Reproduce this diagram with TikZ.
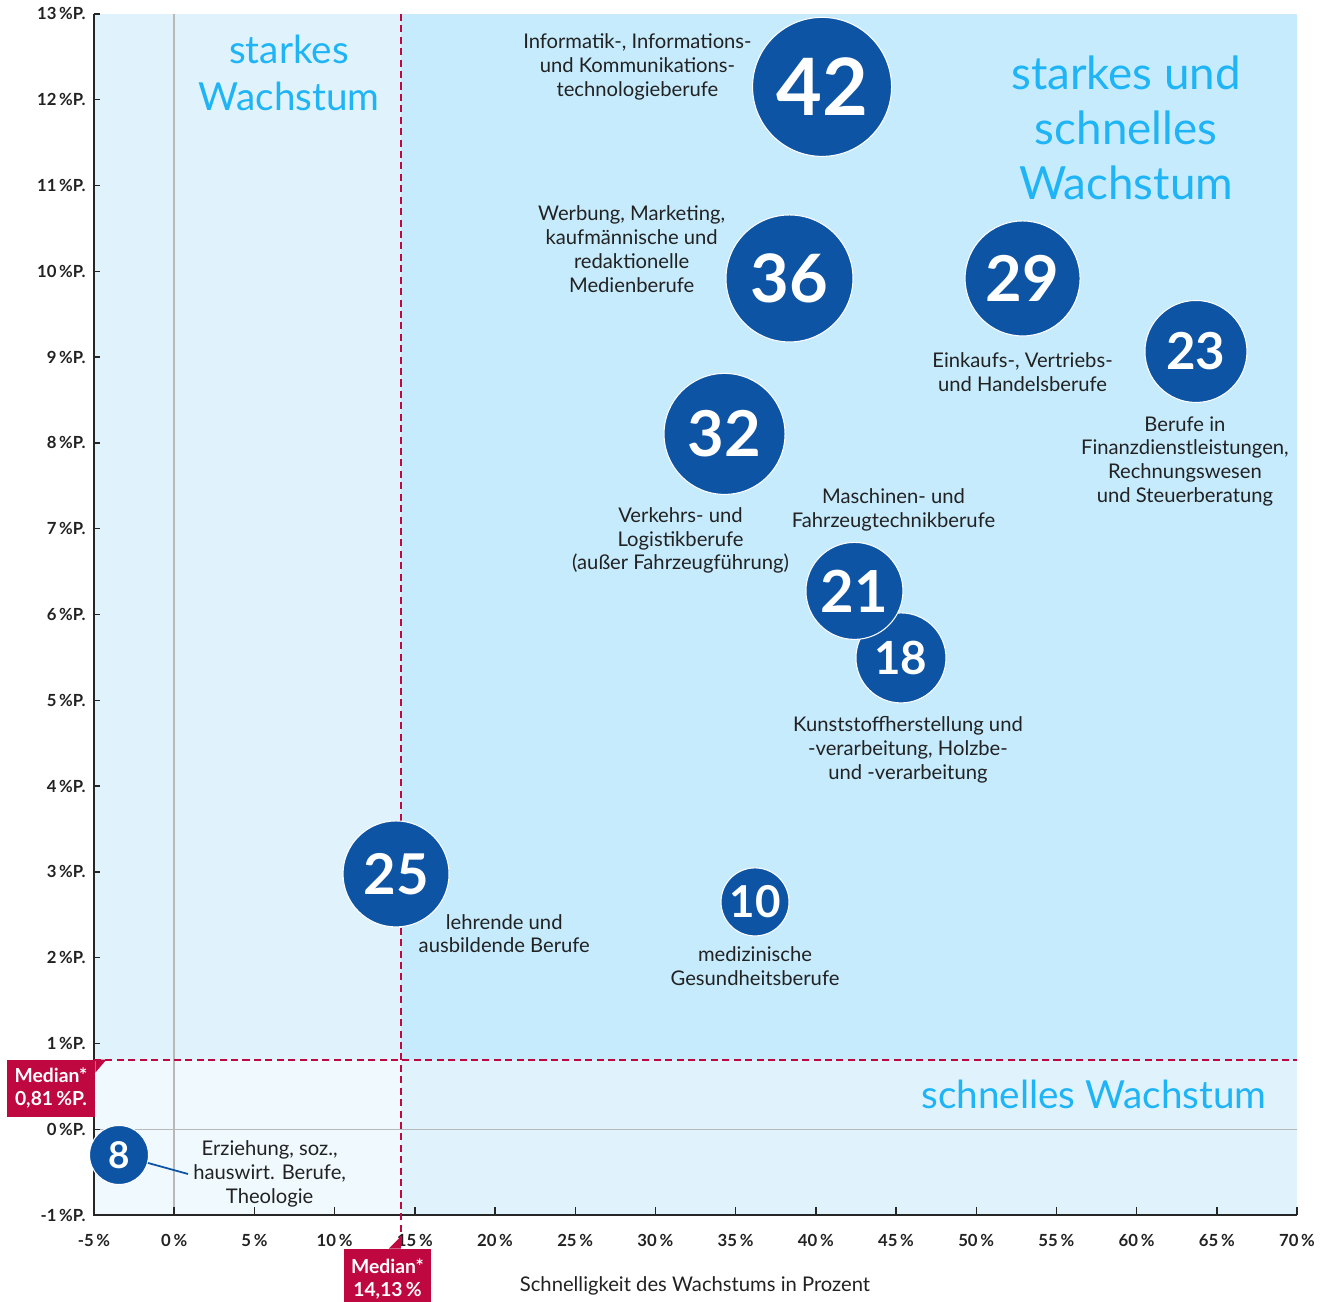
\documentclass[tikz,border=0pt]{standalone}
\usepackage{fontspec}
\setmainfont{Lato}
\usetikzlibrary{positioning}

\definecolor{bubbleblue}{RGB}{14,84,164}
\definecolor{mediancrimson}{RGB}{192,8,64}
\definecolor{quadfast}{RGB}{198,235,253}
\definecolor{quadhalf}{RGB}{224,243,253}
\definecolor{quadlow}{RGB}{240,249,254}
\definecolor{quadtext}{RGB}{30,180,245}
\definecolor{labeltext}{RGB}{34,34,34}

\newcommand{\bubblefont}[1]{\fontsize{#1}{#1}\selectfont\bfseries}

\begin{document}
\begin{tikzpicture}[x=0.3208cm,y=1.7158cm]

		\tikzstyle{bubble}=[circle,fill=bubbleblue,draw=white,line width=0.6pt,
			text=white,inner sep=0pt]
		\tikzstyle{jobtext}=[align=center,inner sep=0pt,text=labeltext,
			font=\fontsize{11.5}{13.6}\selectfont]
		\tikzstyle{quadlabel}=[align=center,inner sep=0pt,text=quadtext]
		\tikzstyle{medianbox}=[rectangle,fill=mediancrimson,text=white,inner sep=0pt,
			align=center,font=\fontsize{11}{13}\selectfont\bfseries]
		\tikzstyle{medianline}=[mediancrimson,line width=1.1pt,dash pattern=on 4pt off 2.5pt]
		\tikzstyle{gridline}=[black!28,line width=0.8pt]
		\tikzstyle{axisline}=[black!85,line width=0.8pt]
		\tikzstyle{ticklabel}=[inner sep=0pt,text=labeltext,font=\fontsize{9.5}{11}\selectfont\bfseries]

		\useasboundingbox (-10.86,-2.013) rectangle (71.87,13.163);

		% quadrants
		\fill[quadlow] (-5,-1) rectangle (14.13,0.81);
		\fill[quadhalf] (-5,0.81) rectangle (14.13,13);
		\fill[quadhalf] (14.13,-1) rectangle (70,0.81);
		\fill[quadfast] (14.13,0.81) rectangle (70,13);

		\draw[gridline] (0,13) -- (0,-1);
		\draw[gridline] (-5,0) -- (70,0);

		% axes
		\draw[axisline] (-5,13) -- (-5,-1) -- (70,-1);
		\foreach \y in {-1,...,13}{
			\draw[axisline] (-5,\y) -- ++(0.12cm,0);
			\node[ticklabel,anchor=east] at ([xshift=-0.16cm]-5,\y) {\y\,\%P.};
		}
		\foreach \x in {-5,0,...,70}{
			\draw[axisline] (\x,-1) -- ++(0,0.16cm);
			\node[ticklabel] at ([yshift=-0.5cm]\x,-1) {\x\,\%};
		}
		\node[jobtext] (xtitle) at (32.47,-1.827) {Schnelligkeit des Wachstums in Prozent};

		\node[quadlabel,font=\fontsize{22}{26.7}\selectfont] (qstrong) at (7.16,12.31) {starkes\\Wachstum};
		\node[quadlabel,font=\fontsize{26}{31.3}\selectfont] (qboth) at (59.34,11.67) {starkes und\\schnelles\\Wachstum};
		\node[quadlabel,font=\fontsize{22}{26.7}\selectfont] (qfast) at (57.34,0.41) {schnelles Wachstum};

		% medians
		\coordinate (medx) at (14.13,0);
		\draw[medianline] (-5,0.81) -- (70,0.81);
		\draw[medianline] (14.13,13) -- (14.13,-1.255);
		\node[medianbox,minimum width=1.76cm,minimum height=1.14cm] (mleft) at (-7.68,0.4756) {Median*\\0,81\,\%P.};
		\fill[mediancrimson] (mleft.north east) -- ++(0.22cm,0) -- ++(-0.22cm,-0.26cm) -- cycle;
		\node[medianbox,minimum width=1.74cm,minimum height=1.2cm] (mbot) at (13.30,-1.745) {Median*\\14,13\,\%};
		\fill[mediancrimson] (medx |- mbot.north) -- ++(0,0.24cm) -- ++(-0.24cm,-0.24cm) -- cycle;

		% bubbles
		\node[bubble,minimum size=2.78cm,font=\bubblefont{45}] (b42) at (40.39,12.15) {42};
		\node[bubble,minimum size=2.54cm,font=\bubblefont{38}] (b36) at (38.36,9.917) {36};
		\node[bubble,minimum size=2.30cm,font=\bubblefont{36}] (b29) at (52.89,9.917) {29};
		\node[bubble,minimum size=2.04cm,font=\bubblefont{29}] (b23) at (63.70,9.066) {23};
		\node[bubble,minimum size=2.42cm,font=\bubblefont{36}] (b32) at (34.31,8.105) {32};
		\node[bubble,minimum size=1.80cm,font=\bubblefont{26}] (b18) at (45.31,5.494) {18};
		\node[bubble,minimum size=1.94cm,font=\bubblefont{33}] (b21) at (42.41,6.275) {21};
		\node[bubble,minimum size=2.12cm,font=\bubblefont{32}] (b25) at (13.83,2.976) {25};
		\node[bubble,minimum size=1.36cm,font=\bubblefont{25}] (b10) at (36.21,2.650) {10};
		\node[bubble,minimum size=1.18cm,font=\bubblefont{21}] (b8) at (-3.44,-0.300) {8};

		% labels
		\node[jobtext,left=0mm of b42,yshift=4mm] (l42) {Informatik-, Informations-\\und Kommunikations-\\technologieberufe};
		\node[jobtext,left=0mm of b36,yshift=5.8mm] (l36) {Werbung, Marketing,\\kaufmännische und\\redaktionelle\\Medienberufe};
		\node[jobtext,below=3.2mm of b29] (l29) {Einkaufs-, Vertriebs-\\und Handelsberufe};
		\node[jobtext,below=2.6mm of b23,xshift=-2.2mm] (l23) {Berufe in\\Finanzdienstleistungen,\\Rechnungswesen\\und Steuerberatung};
		\node[jobtext,below=2.4mm of b32,xshift=-8.8mm] (l32) {Verkehrs- und\\Logistikberufe\\(außer Fahrzeugführung)};
		\node[jobtext,above=2mm of b21,xshift=7.8mm] (l21) {Maschinen- und\\Fahrzeugtechnikberufe};
		\node[jobtext,below=2.6mm of b18,xshift=1.4mm] (l18) {Kunststoffherstellung und\\-verarbeitung, Holzbe-\\und -verarbeitung};
		\node[jobtext,below right=0.4mm and -3.1mm of b25] (l25) {lehrende und\\ausbildende Berufe};
		\node[jobtext,below=2mm of b10] (l10) {medizinische\\Gesundheitsberufe};
		\node[jobtext,right=8.8mm of b8,yshift=-3.8mm] (l8) {Erziehung, soz.,\\hauswirt. Berufe,\\Theologie};

		\draw[bubbleblue,line width=1pt] (b8) -- ([xshift=-1mm]l8.west);

	\end{tikzpicture}
\end{document}
